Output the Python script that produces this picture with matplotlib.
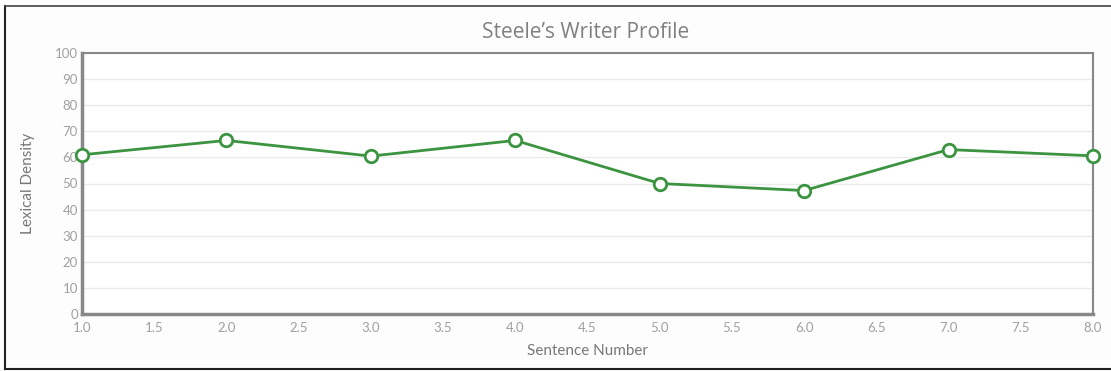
import matplotlib.pyplot as plt
from matplotlib.lines import Line2D

# sentence number vs lexical density
sentences = [1, 2, 3, 4, 5, 6, 7, 8]
density = [61.0, 66.5, 60.5, 66.5, 50.0, 47.3, 63.0, 60.6]

x_ticks = [1.0, 1.5, 2.0, 2.5, 3.0, 3.5, 4.0, 4.5, 5.0, 5.5, 6.0, 6.5, 7.0, 7.5, 8.0]
y_ticks = [0, 10, 20, 30, 40, 50, 60, 70, 80, 90, 100]

W, H = 1111, 371
fig = plt.figure(figsize=(W / 100, H / 100), dpi=100, facecolor="#fdfdfd")
ax = fig.add_axes([82 / W, 1 - 314 / H, (1093 - 82) / W, (314 - 53) / H])
ax.set_facecolor("white")

ax.plot(sentences, density, color="#3c9340", lw=2, marker="o", ms=9,
        mfc="white", mec="#3c9340", mew=2, zorder=3, clip_on=False)

ax.set_xlim(1, 8)
ax.set_ylim(0, 100)
ax.set_xticks(x_ticks)
ax.set_xticklabels([f"{t:.1f}" for t in x_ticks])
ax.set_yticks(y_ticks)
ax.grid(axis="y", color="#ebebeb", lw=1)
ax.set_axisbelow(True)
ax.tick_params(length=0, labelsize=9.5, labelcolor="#a0a0a0")
ax.tick_params(axis="x", pad=6)
ax.tick_params(axis="y", pad=3)
for lbl in ax.get_xticklabels() + ax.get_yticklabels():
    lbl.set_family("Lato")

for side in ["top", "right"]:
    ax.spines[side].set_color("#888888")
    ax.spines[side].set_linewidth(1.5)
for side in ["left", "bottom"]:
    ax.spines[side].set_color("#888888")
    ax.spines[side].set_linewidth(2.5)

ax.set_xlabel("Sentence Number", family="Lato", fontsize=11, color="#777777", labelpad=7)
ax.set_ylabel("Lexical Density", family="Lato", fontsize=11, color="#777777", labelpad=14)

fig.text(586 / W, 1 - 32 / H, "Steele\u2019s Writer Profile", family="Open Sans",
         fontsize=15, color="#808080", ha="center", va="center")

# outer frame (left, top, bottom)
fig.add_artist(Line2D([5 / W, 5 / W], [1 - 6 / H, 1 - 369 / H], color="#222222", lw=1.5))
fig.add_artist(Line2D([5 / W, 1], [1 - 6 / H, 1 - 6 / H], color="#444444", lw=1.2))
fig.add_artist(Line2D([5 / W, 1], [1 - 369 / H, 1 - 369 / H], color="#222222", lw=1.5))

fig.savefig("out.png", dpi=100, facecolor=fig.get_facecolor())
